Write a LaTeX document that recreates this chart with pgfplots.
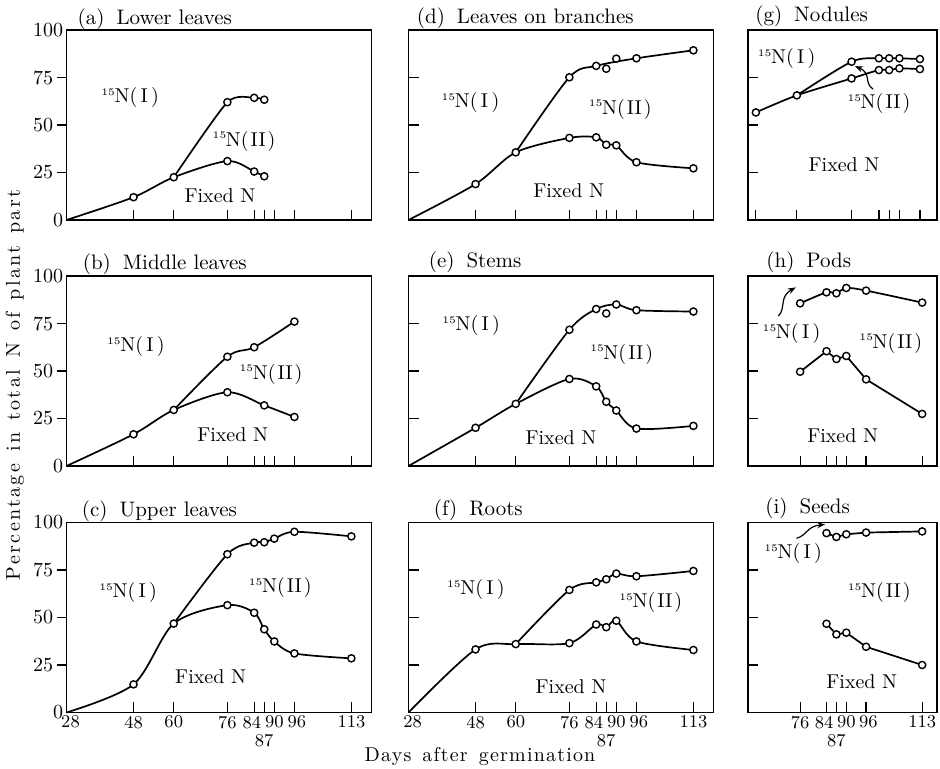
\documentclass[border=0pt]{standalone}
\usepackage{pgfplots}
\pgfplotsset{compat=1.18}
\usetikzlibrary{arrows.meta}
\font\ttlfont="[lmroman10-regular]" at 10.5pt
\font\xlabfont="[lmroman10-regular]:letterspace=6" at 10pt
\font\ylabfont="[lmroman10-regular]:letterspace=12" at 10pt
\newcommand\lab{\fontsize{10}{12}\selectfont}
\newcommand\Ni{\raisebox{0.85ex}{\fontsize{5}{5}\selectfont 15}\kern-0.2pt N(\,I\,)}
\newcommand\Nii{\raisebox{0.85ex}{\fontsize{5}{5}\selectfont 15}\kern-0.2pt N(\kern1pt II\kern1pt)}
\pgfplotsset{
  panel/.style={
    scale only axis, height=95pt, ymin=0, ymax=100,
    axis line style={line width=0.75pt},
    every tick/.style={black, line width=0.6pt},
    major tick length=5pt,
    tick align=inside,
    xtick pos=left, ytick pos=left,
    ytick={25,50,75}, yticklabels={},
    xticklabels={},
    clip=false,
    yticklabel style={font=\fontsize{10}{10}\selectfont},
    xticklabel style={font=\fontsize{9}{9.3}\selectfont},
  },
  wide/.style={panel, width=152.5pt, xmin=28, xmax=119, xtick={48,60,76,84,87,90,96,113}},
  nod/.style={panel, width=94.5pt, xmin=45.7, xmax=101, xtick={48,60,76,84,87,90,96}},
  narrow/.style={panel, width=94.5pt, xmin=60.2, xmax=117.5, xtick={76,84,87,90,96,113}},
  leftcol/.style={ytick align=outside, yticklabels={25,50,75},
    extra y ticks={0,100}, extra y tick labels={0,100}, extra y tick style={tick align=inside},
    yticklabel style={inner sep=1.5pt}},
  botwide/.style={xticklabels={48,60,76,{84\hspace*{2.4pt}},{\phantom{0}\\87},90,{\hspace*{2.4pt}96},113},
    extra x ticks={28}, extra x tick labels={{\hspace*{4pt}28}},
    xticklabel style={align=center, inner sep=1.5pt}},
  botnarrow/.style={xticklabels={76,{84\hspace*{2.4pt}},{\phantom{0}\\87},90,{\hspace*{2.4pt}96},113},
    xticklabel style={align=center, inner sep=1.5pt}},
  crv/.style={smooth, line width=0.85pt, black, no marks},
  lin/.style={sharp plot, line width=0.85pt, black, no marks},
  pts/.style={only marks, mark=*, mark size=1.8pt, mark options={fill=white, draw=black, line width=0.7pt}},
}
\tikzset{arr/.style={-{Stealth[length=4pt,width=3pt]}, line width=0.6pt},
  ttl/.style={anchor=base west, inner sep=0pt, font=\ttlfont}}
\begin{document}
\begin{tikzpicture}
\useasboundingbox (0,0) rectangle (470pt,384.5pt);

% (a) Lower leaves
\begin{axis}[wide, leftcol, at={(33.25pt,274.5pt)}, anchor=south west]
\addplot[crv] coordinates {(28,0) (48,12) (60,22.5) (76,31) (84,25.5) (87,23)};
\addplot[crv, tension=0.4] coordinates {(60,22.5) (76,62) (84,64.3) (87,63.3)};
\addplot[pts] coordinates {(48,12) (60,22.5) (76,31) (84,25.5) (87,23)};
\addplot[pts] coordinates {(76,62) (84,64.3) (87,63.3)};
\node[font=\lab] at (axis cs:47,64.4) {\Ni};
\node[font=\lab] at (axis cs:81,41.5) {\Nii};
\node[font=\lab] at (axis cs:73.8,12.8) {Fixed N};
\node[ttl, xshift=5.4pt, yshift=2.5pt] at (rel axis cs:0,1) {(a)\hspace{6pt}Lower leaves};
\end{axis}

% (b) Middle leaves
\begin{axis}[wide, leftcol, at={(33.25pt,151.5pt)}, anchor=south west]
\addplot[crv] coordinates {(28,0) (48,16.7) (60,29.5) (76,38.8) (87,31.9) (96,25.8)};
\addplot[crv] coordinates {(60,29.5) (76,57.5) (84,62.5) (96,76)};
\addplot[pts] coordinates {(48,16.7) (60,29.5) (76,38.8) (87,31.9) (96,25.8)};
\addplot[pts] coordinates {(76,57.5) (84,62.5) (96,76)};
\node[font=\lab] at (axis cs:48.7,62.7) {\Ni};
\node[font=\lab] at (axis cs:89,48.3) {\Nii};
\node[font=\lab] at (axis cs:77.6,16.5) {Fixed N};
\node[ttl, xshift=8pt, yshift=3pt] at (rel axis cs:0,1) {(b)\hspace{6pt}Middle leaves};
\end{axis}

% (c) Upper leaves
\begin{axis}[wide, leftcol, botwide, at={(33.25pt,28.25pt)}, anchor=south west]
\addplot[crv] coordinates {(28,0) (48,14.8) (60,46.8) (76,56.5) (84,52.5) (87,43.8) (90,37.4) (96,31.1) (113,28.5)};
\addplot[crv] coordinates {(60,46.8) (76,83.3) (84,89.4) (87,89.6) (90,91.5) (96,95.1) (113,92.7)};
\addplot[pts] coordinates {(48,14.8) (60,46.8) (76,56.5) (84,52.5) (87,43.8) (90,37.4) (96,31.1) (113,28.5)};
\addplot[pts] coordinates {(76,83.3) (84,89.4) (87,89.6) (90,91.5) (96,95.1) (113,92.7)};
\node[font=\lab] at (axis cs:46.4,63.1) {\Ni};
\node[font=\lab] at (axis cs:91.8,65.7) {\Nii};
\node[font=\lab] at (axis cs:71,19.1) {Fixed N};
\node[ttl, xshift=7.5pt, yshift=3pt] at (rel axis cs:0,1) {(c)\hspace{6pt}Upper leaves};
\end{axis}

% (d) Leaves on branches
\begin{axis}[wide, at={(204.25pt,274.5pt)}, anchor=south west]
\addplot[crv] coordinates {(28,0) (48,18.9) (60,35.6) (76,43.2) (84,43.5) (87,39.6) (90,39.3) (96,30.4) (113,27.2)};
\addplot[crv] coordinates {(60,35.6) (76,75.1) (84,81.1) (96,85.1) (113,89.3)};
\addplot[pts] coordinates {(48,18.9) (60,35.6) (76,43.2) (84,43.5) (87,39.6) (90,39.3) (96,30.4) (113,27.2)};
\addplot[pts] coordinates {(76,75.1) (84,81.1) (87,79.6) (90,84.9) (96,85.1) (113,89.3)};
\node[font=\lab] at (axis cs:46.5,61.9) {\Ni};
\node[font=\lab] at (axis cs:91.2,58.3) {\Nii};
\node[font=\lab] at (axis cs:75.8,15.4) {Fixed N};
\node[ttl, xshift=4pt, yshift=3pt] at (rel axis cs:0,1) {(d)\hspace{6pt}Leaves on branches};
\end{axis}

% (e) Stems
\begin{axis}[wide, at={(204.25pt,151.5pt)}, anchor=south west]
\addplot[crv] coordinates {(28,0) (48,20.1) (60,32.7) (76,45.8) (84,41.9) (87,33.8) (90,29.2) (96,19.7) (113,21.1)};
\addplot[crv] coordinates {(60,32.7) (76,71.7) (84,82.6) (90,85.0) (96,82.0) (113,81.3)};
\addplot[pts] coordinates {(48,20.1) (60,32.7) (76,45.8) (84,41.9) (87,33.8) (90,29.2) (96,19.7) (113,21.1)};
\addplot[pts] coordinates {(76,71.7) (84,82.6) (87,80.3) (90,85.0) (96,82.0) (113,81.3)};
\node[font=\lab] at (axis cs:46.7,73.8) {\Ni};
\node[font=\lab] at (axis cs:91.6,58.8) {\Nii};
\node[font=\lab] at (axis cs:73.5,14.8) {Fixed N};
\node[ttl, xshift=10pt, yshift=4pt] at (rel axis cs:0,1) {(e)\hspace{6pt}Stems};
\end{axis}

% (f) Roots
\begin{axis}[wide, botwide, at={(204.25pt,28.25pt)}, anchor=south west]
\addplot[crv] coordinates {(28,0) (48,33.2) (60,36) (76,36.5) (84,46.3) (87,44.9) (90,48.3) (96,37.4) (113,32.9)};
\addplot[crv] coordinates {(60,36) (76,64.5) (84,68.5) (87,70.1) (90,73.1) (96,71.7) (113,74.5)};
\addplot[pts] coordinates {(48,33.2) (60,36) (76,36.5) (84,46.3) (87,44.9) (90,48.3) (96,37.4) (113,32.9)};
\addplot[pts] coordinates {(76,64.5) (84,68.5) (87,70.1) (90,73.1) (96,71.7) (113,74.5)};
\node[font=\lab] at (axis cs:48.1,64.7) {\Ni};
\node[font=\lab] at (axis cs:100.3,57.7) {\Nii};
\node[font=\lab] at (axis cs:76.5,13.6) {Fixed N};
\node[ttl, xshift=12.5pt, yshift=3.5pt] at (rel axis cs:0,1) {(f)\hspace{6pt}Roots};
\end{axis}

% (g) Nodules
\begin{axis}[nod, at={(374pt,274.5pt)}, anchor=south west]
\addplot[crv] coordinates {(48,56.6) (60,65.6) (76,74.5) (84,78.9) (87,78.9) (90,79.8) (96,79.4)};
\addplot[crv] coordinates {(60,65.6) (76,83.3) (84,85.1) (87,85.1) (90,85.1) (96,84.7)};
\addplot[pts] coordinates {(48,56.6) (60,65.6) (76,74.5) (84,78.9) (87,78.9) (90,79.8) (96,79.4)};
\addplot[pts] coordinates {(76,83.3) (84,85.1) (87,85.1) (90,85.1) (96,84.7)};
\node[font=\lab] at (axis cs:57,85) {\Ni};
\node[font=\lab] at (axis cs:84,61.3) {\Nii};
\node[font=\lab] at (axis cs:73.8,29.3) {Fixed N};
\draw[arr] (axis cs:82.3,68.9) .. controls (axis cs:79.5,72) and (axis cs:82,77) .. (axis cs:77,81);
\node[ttl, xshift=3.5pt, yshift=4pt] at (rel axis cs:0,1) {(g)\hspace{6pt}Nodules};
\end{axis}

% (h) Pods
\begin{axis}[narrow, at={(374pt,151.5pt)}, anchor=south west]
\addplot[crv] coordinates {(76,85.6) (84,91.4) (87,90.9) (90,93.7) (96,92.3) (113,86.0)};
\addplot[lin] coordinates {(76,49.6) (84,60.4) (87,56.3) (90,57.9) (96,45.6) (113,27.4)};
\addplot[pts] coordinates {(76,85.6) (84,91.4) (87,90.9) (90,93.7) (96,92.3) (113,86.0)};
\addplot[pts] coordinates {(76,49.6) (84,60.4) (87,56.3) (90,57.9) (96,45.6) (113,27.4)};
\node[font=\lab] at (axis cs:73.4,69.8) {\Ni};
\node[font=\lab] at (axis cs:103.5,64.6) {\Nii};
\node[font=\lab] at (axis cs:88.9,16) {Fixed N};
\draw[arr] (axis cs:69.4,78.9) .. controls (axis cs:71.8,83) and (axis cs:69.5,89) .. (axis cs:74.7,94);
\node[ttl, xshift=9pt, yshift=4pt] at (rel axis cs:0,1) {(h)\hspace{6pt}Pods};
\end{axis}

% (i) Seeds
\begin{axis}[narrow, botnarrow, at={(374pt,28.25pt)}, anchor=south west]
\addplot[lin] coordinates {(84,94.4) (87,92.4) (90,93.8) (96,94.7) (113,95.3)};
\addplot[lin] coordinates {(84,46.7) (87,41.1) (90,42.0) (96,34.6) (113,25.0)};
\addplot[pts] coordinates {(84,94.4) (87,92.4) (90,93.8) (96,94.7) (113,95.3)};
\addplot[pts] coordinates {(84,46.7) (87,41.1) (90,42.0) (96,34.6) (113,25.0)};
\node[font=\lab] at (axis cs:73.9,83.7) {\Ni};
\node[font=\lab] at (axis cs:100,63.1) {\Nii};
\node[font=\lab] at (axis cs:94.7,16) {Fixed N};
\draw[arr] (axis cs:74.9,91.7) .. controls (axis cs:78,93) and (axis cs:78,98) .. (axis cs:83.6,99);
\node[ttl, xshift=8.5pt, yshift=4.5pt] at (rel axis cs:0,1) {(i)\hspace{6pt}Seeds};
\end{axis}

\node[rotate=90] at (7.5pt,192pt) {\ylabfont\spaceskip=6pt Percentage in total N of plant part};
\node at (240pt,6pt) {\xlabfont\spaceskip=5.5pt Days after germination};
\end{tikzpicture}
\end{document}
